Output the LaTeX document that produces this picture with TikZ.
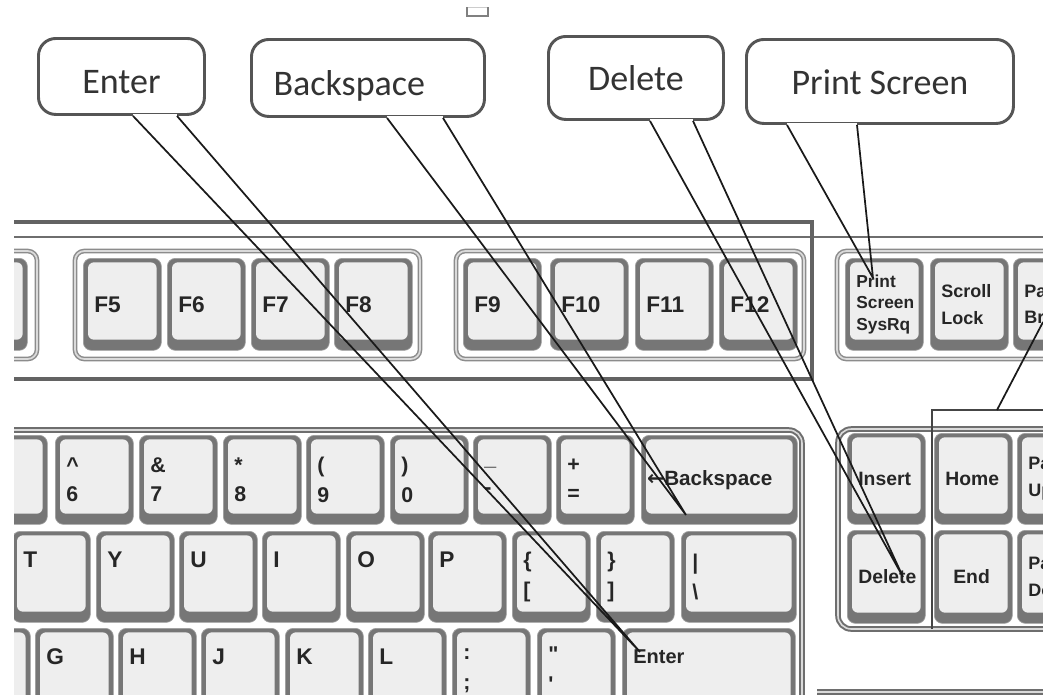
\documentclass[tikz,border=0pt]{standalone}
\usepackage{fontspec}
\newfontfamily\callfam{Carlito}
\newfontfamily\keyfam{Liberation Sans}
\newfontfamily\symfam{DejaVu Sans}
\usetikzlibrary{calc}
\definecolor{keyface}{HTML}{EEEEEE}
\definecolor{keydark}{HTML}{767676}
\definecolor{keyrim}{HTML}{A0A0A0}
\definecolor{framegray}{HTML}{6E6E6E}
\definecolor{framelight}{HTML}{DADADA}
\definecolor{grpgray}{HTML}{8C8C8C}
\definecolor{callgray}{HTML}{555555}
\definecolor{calltext}{HTML}{333333}
\definecolor{keytext}{HTML}{262626}
\definecolor{tailcol}{HTML}{1A1A1A}
\definecolor{hlcol}{HTML}{454545}
\newcommand\rz[1]{\fontsize{17}{20}\selectfont#1\rule[-26pt]{0pt}{0pt}}
\newcommand\kbk[7][]{%
  \pgfmathsetmacro\kbW{#5*0.75}\pgfmathsetmacro\kbH{#6*0.75}\pgfmathsetmacro\kbT{(#5-22)*0.75}%
  \node[kbkey, minimum width=\kbW pt, minimum height=\kbH pt, text width=\kbT pt, #1] (#2) at (#3,#4) {#7};}
\tikzset{
  kbkey/.style={anchor=north west, inner sep=0pt, rounded corners=6pt, fill=keydark, draw=keyrim,
    line width=0.5pt, align=left, text=keytext, font=\keyfam\bfseries\fontsize{16}{22}\selectfont,
    path picture={\fill[keyface, rounded corners=4.5pt]
      ([shift={(3.5pt,-3pt)}]path picture bounding box.north west) rectangle
      ([shift={(-3.5pt,8pt)}]path picture bounding box.south east);}},
  fkey/.style={font=\keyfam\bfseries\fontsize{17}{20}\selectfont},
  wkey/.style={font=\keyfam\bfseries\fontsize{14.5}{18}\selectfont},
  pkey/.style={font=\keyfam\bfseries\fontsize{13}{16}\selectfont},
  skey/.style={font=\keyfam\bfseries\fontsize{13.5}{20}\selectfont},
  kframe/.style={draw=framegray, line width=1.5pt, double=framelight, double distance=1.2pt},
  grpframe/.style={draw=grpgray, line width=1.1pt, double=framelight, double distance=1.3pt, rounded corners=7pt},
  callout/.style={anchor=north west, draw=callgray, line width=2.2pt, rounded corners=13pt, fill=white,
    inner sep=0pt, font=\callfam\fontsize{27}{30}\selectfont, text=calltext, text depth=0pt},
  tail/.style={draw=tailcol, line width=1.3pt},
  hlbox/.style={draw=hlcol, line width=2pt},
}
\begin{document}
\begin{tikzpicture}[x=0.75pt,y=-0.75pt]
\useasboundingbox (0,0) rectangle (1043,694);
\fill[white] (0,0) rectangle (1043,694);
\begin{scope}
\clip (14,0) rectangle (1043,694);
% tiny mark at top
\draw[draw=gray!40, line width=0.6pt] (467,7) -- (488,7);
\draw[draw=gray, line width=1pt] (467,7) -- (467,16) -- (488,16) -- (488,7);
% keyboard frames
\draw[draw=framegray, line width=1.4pt] (0,237) -- (1060,237);
\draw[draw=framegray!90!black, line width=2.6pt] (0,222) -- (812,222) -- (812,379) -- (0,379);
\draw[kframe, rounded corners=10pt] (0,430) -- (802,430) -- (802,720);
\draw[kframe, rounded corners=10pt] (1070,429) -- (838,429) -- (838,629) -- (1070,629);
\draw[kframe] (817,692) -- (1070,692);
% F-row group frames
\draw[grpframe] (-40,251) rectangle (37,359);
\draw[grpframe] (75,251) rectangle (420,359);
\draw[grpframe] (456,251) rectangle (804,359);
\draw[grpframe] (837,251) rectangle (1080,359);
% F row
\kbk[fkey]{kFl}{-50}{258}{77}{92}{}
\kbk[fkey]{kF5}{83}{258}{78}{92}{F5}
\kbk[fkey]{kF6}{167}{258}{78}{92}{F6}
\kbk[fkey]{kF7}{251}{258}{78}{92}{F7}
\kbk[fkey]{kF8}{334}{258}{78}{92}{F8}
\kbk[fkey]{kF9}{463}{258}{78}{92}{F9}
\kbk[fkey]{kF10}{550}{258}{78}{92}{F10}
\kbk[fkey]{kF11}{635}{258}{78}{92}{F11}
\kbk[fkey]{kF12}{719}{258}{78}{92}{F12}
\kbk[pkey]{kPrt}{845}{258}{78}{92}{Print\\Screen\\SysRq}
\kbk[skey]{kScr}{930}{258}{78}{92}{Scroll\\Lock}
\kbk[skey]{kPau}{1013}{258}{78}{92}{Pause\\Break}
% number row
\kbk{kR1a}{-31}{435}{78}{89}{}
\kbk{k6}{55}{435}{78}{89}{\textasciicircum\\6}
\kbk{k7}{139}{435}{78}{89}{\&\\7}
\kbk{k8}{223}{435}{78}{89}{*\\8}
\kbk{k9}{306}{435}{78}{89}{(\\9}
\kbk{k0}{390}{435}{78}{89}{)\\0}
\kbk{kMin}{473}{435}{78}{89}{\_\\-}
\kbk{kEq}{556}{435}{78}{89}{+\\=}
\kbk[wkey]{kBksp}{641}{435}{156}{89}{\hspace*{-4pt}\fontsize{15.5}{18}\selectfont{\symfam ←}Backspace}
% second row
\kbk{kT}{12}{531}{78}{91}{\rz{T}}
\kbk{kY}{96}{531}{78}{91}{\rz{Y}}
\kbk{kU}{179}{531}{78}{91}{\rz{U}}
\kbk{kI}{262}{531}{78}{91}{\rz{I}}
\kbk{kO}{346}{531}{78}{91}{\rz{O}}
\kbk{kP}{428}{531}{78}{91}{\rz{P}}
\kbk{kLb}{512}{531}{78}{91}{\{\\{[}}
\kbk{kRb}{596}{531}{78}{91}{\}\\{]}}
\kbk{kBsl}{681}{531}{115}{91}{|\\\textbackslash}
% third row
\kbk{kR3a}{-48}{628}{78}{92}{}
\kbk{kG}{35}{628}{78}{92}{\rz{G}}
\kbk{kH}{118}{628}{78}{92}{\rz{H}}
\kbk{kJ}{201}{628}{78}{92}{\rz{J}}
\kbk{kK}{285}{628}{78}{92}{\rz{K}}
\kbk{kL}{368}{628}{78}{92}{\rz{L}}
\kbk{kSc}{452}{628}{78}{92}{:\\;\rule[-8pt]{0pt}{0pt}}
\kbk{kQt}{537}{628}{78}{92}{"\\'\rule[-8pt]{0pt}{0pt}}
\kbk[wkey]{kEnt}{622}{628}{173}{92}{\rz{\fontsize{15}{18}\selectfont Enter}}
% navigation block
\kbk[wkey]{kIns}{847}{433}{78}{91}{Insert}
\kbk[wkey]{kHome}{934}{433}{78}{91}{Home}
\kbk[skey]{kPgU}{1017}{433}{78}{91}{Page\\Up}
\kbk[wkey]{kDel}{847}{530}{78}{93}{Delete}
\kbk[wkey]{kEnd}{934}{530}{78}{93}{\hspace*{6pt}End}
\kbk[skey]{kPgD}{1017}{530}{78}{93}{Page\\Down}
% highlight box around Home/End
\draw[hlbox] (932,629) -- (932,410) -- (1070,410);
\coordinate (hlRoot) at (997,410);
\coordinate (tPause) at (1043,322);
\draw[tail] (hlRoot) -- (tPause);
% callouts
\node[callout, minimum width=124.5pt, minimum height=57pt, text height=26pt] (cEnter) at (37,37) {Enter};
\node[callout, minimum width=174.75pt, minimum height=57.75pt, text height=26pt] (cBack) at (250,38) {Backspace\hspace*{28pt}};
\node[callout, minimum width=131.25pt, minimum height=62.25pt, text height=19pt] (cDel) at (547,35) {Delete};
\node[callout, minimum width=200.25pt, minimum height=63pt, text height=20pt] (cPrt) at (745,38) {Print Screen};
% tail roots
\coordinate (eA) at ($(cEnter.south west)+(96,0)$);
\coordinate (eB) at ($(cEnter.south west)+(140,0)$);
\coordinate (bA) at ($(cBack.south west)+(137,0)$);
\coordinate (bB) at ($(cBack.south west)+(193,0)$);
\coordinate (dA) at ($(cDel.south west)+(103,0)$);
\coordinate (dB) at ($(cDel.south west)+(146,0)$);
\coordinate (pA) at ($(cPrt.south west)+(42,0)$);
\coordinate (pB) at ($(cPrt.south west)+(112,0)$);
% tail targets
\coordinate (tEnter) at (640,652);
\coordinate (tBack) at (686,515);
\coordinate (tDel) at (903,577);
\coordinate (tPrt) at (873,278);
\foreach \a/\b in {eA/eB,bA/bB,dA/dB,pA/pB}{\draw[white, line width=3pt] (\a) -- (\b);}
\draw[tail] (eA) -- (tEnter) (eB) -- (tEnter);
\draw[tail] (bA) -- (tBack) (bB) -- (tBack);
\draw[tail] (dA) -- (tDel) (dB) -- (tDel);
\draw[tail] (pA) -- (tPrt) (pB) -- (tPrt);
\end{scope}
\end{tikzpicture}
\end{document}
